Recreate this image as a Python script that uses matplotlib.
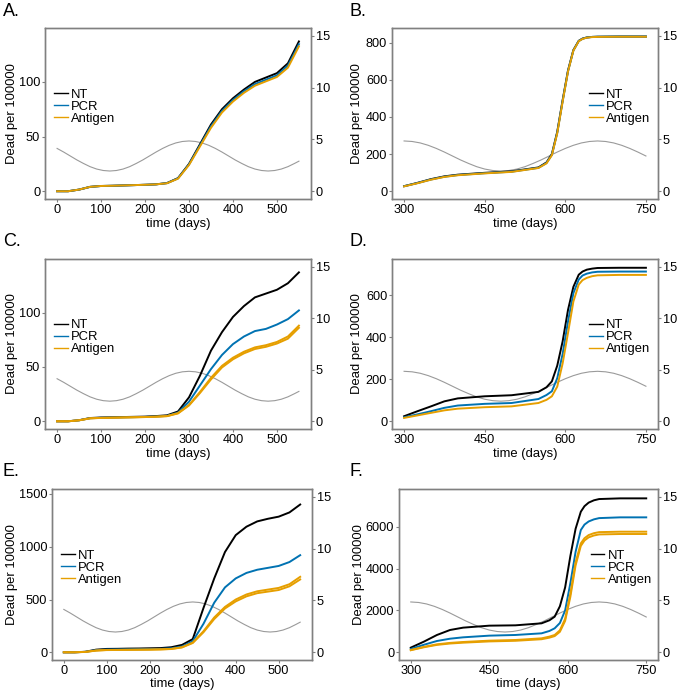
import matplotlib
matplotlib.use("Agg")
import matplotlib.pyplot as plt

plt.rcParams['font.family'] = ['Liberation Sans', 'DejaVu Sans']

# ---------------- data ----------------
t_year1 = [0, 25, 50, 75, 100, 125, 150, 175, 200, 225, 250, 275, 300, 325, 350,
           375, 400, 425, 450, 475, 500, 525, 550]
t_year2 = [300, 325, 350, 375, 400, 450, 500, 550, 565, 575, 585, 595, 605, 615,
           625, 632, 640, 650, 660, 700, 750]

# seasonal forcing (right axis)
season_t1 = [0, 15, 30, 45, 60, 75, 90, 105, 120, 135, 150, 165, 180, 195, 210, 225,
             240, 255, 270, 285, 300, 315, 330, 345, 360, 375, 390, 405, 420, 435,
             450, 465, 480, 495, 510, 525, 540, 550]
season_v1 = [4.13, 3.78, 3.40, 3.02, 2.68, 2.37, 2.14, 2.00, 1.95, 2.00, 2.14, 2.37,
             2.68, 3.02, 3.40, 3.78, 4.13, 4.43, 4.66, 4.80, 4.85, 4.80, 4.66, 4.43,
             4.13, 3.78, 3.40, 3.02, 2.68, 2.37, 2.14, 2.00, 1.95, 2.00, 2.14, 2.37,
             2.68, 2.90]
season_t2 = [300, 315, 330, 345, 360, 375, 390, 405, 420, 435, 450, 465, 480, 495,
             510, 525, 540, 555, 570, 585, 600, 615, 630, 645, 660, 675, 690, 705,
             720, 735, 750]
season_v2 = [4.85, 4.80, 4.66, 4.43, 4.13, 3.78, 3.40, 3.02, 2.68, 2.37, 2.14, 2.00,
             1.95, 2.00, 2.14, 2.37, 2.68, 3.02, 3.40, 3.78, 4.13, 4.43, 4.66, 4.80,
             4.85, 4.80, 4.66, 4.43, 4.13, 3.78, 3.40]

# Panel A
A_nt = [0, 0, 1.5, 4.0, 4.8, 5.0, 5.3, 5.6, 5.9, 6.3, 7.5, 12, 25, 43, 61, 75, 85, 93,
        100, 104, 108, 117, 137]
A_pcr = [0, 0, 1.5, 4.0, 4.8, 5.0, 5.3, 5.6, 5.9, 6.3, 7.4, 11.8, 24.5, 42, 59.5, 73.5,
         83.5, 91.5, 98, 102, 106, 115, 134.5]
A_ag = [0, 0, 1.5, 4.0, 4.8, 5.0, 5.3, 5.6, 5.9, 6.3, 7.3, 11.5, 24, 41, 58, 72, 82, 90,
        96.5, 100.5, 104.5, 113, 132.5]

# Panel B
B_nt = [27, 45, 65, 80, 89, 99, 107, 128, 155, 200, 320, 490, 650, 760, 810, 822, 828,
        831, 832, 833, 833]
B_pcr = [27, 44, 63, 78, 87, 97, 105, 126, 152, 196, 315, 485, 646, 758, 809, 821, 828,
         831, 832, 833, 833]
B_ag = [26, 43, 62, 77, 86, 96, 104, 125, 150, 194, 312, 482, 644, 757, 808, 820, 827,
        830, 831, 832, 832]

# Panel C
C_nt = [0, 0, 1, 3.0, 3.5, 3.7, 3.9, 4.1, 4.3, 4.8, 5.5, 9, 22, 42, 65, 82, 96, 106,
        114, 117.5, 121, 127, 137]
C_pcr = [0, 0, 0.9, 2.8, 3.2, 3.4, 3.6, 3.8, 4.0, 4.4, 5.0, 8, 18, 33, 48, 61, 71, 78,
         83, 85, 89, 94, 102]
C_ag1 = [0, 0, 0.9, 2.7, 3.1, 3.3, 3.5, 3.7, 3.9, 4.2, 4.8, 7.5, 15, 27, 40, 51, 58.5,
         64, 68, 70, 73, 78, 88]
C_ag2 = [0, 0, 0.9, 2.7, 3.1, 3.3, 3.5, 3.7, 3.9, 4.2, 4.7, 7.2, 14.5, 26, 38.5, 49.5,
         57, 62.5, 66.5, 68.5, 71.5, 76, 86]

# Panel D
D_nt = [24, 48, 71, 95, 109, 119, 124, 140, 162, 190, 265, 380, 530, 640, 698, 713, 722,
        727, 730, 731, 731]
D_pcr = [19, 33, 48, 64, 75, 83, 87, 106, 125, 143, 205, 320, 475, 610, 675, 694, 703,
         709, 712, 713, 713]
D_ag = [16, 28, 40, 52, 60, 67, 71, 87, 102, 119, 165, 275, 420, 570, 651, 672, 683,
        691, 695, 697, 697]

# Panel E
E_nt = [0, 0, 5, 25, 32, 33, 35, 36, 38, 40, 48, 70, 125, 420, 700, 950, 1110, 1190,
        1240, 1265, 1285, 1325, 1400]
E_pcr = [0, 0, 4, 20, 26, 27, 28, 29, 30, 32, 38, 55, 105, 270, 470, 615, 700, 752, 782,
         800, 818, 855, 920]
E_ag1 = [0, 0, 3.5, 17, 22, 23, 24, 25, 26, 28, 32, 48, 92, 200, 330, 430, 500, 548, 578,
         594, 610, 645, 715]
E_ag2 = [0, 0, 3.5, 16, 21, 22, 23, 24, 25, 27, 31, 46, 88, 190, 315, 415, 482, 530, 560,
         575, 590, 625, 690]

# Panel F
F_nt = [223, 509, 828, 1066, 1178, 1273, 1289, 1385, 1530, 1703, 2200, 3100, 4600, 5900,
        6716, 6980, 7150, 7260, 7320, 7353, 7353]
F_pcr = [159, 360, 541, 650, 716, 796, 828, 907, 1020, 1146, 1400, 2000, 3300, 4800,
         5841, 6100, 6250, 6350, 6410, 6446, 6446]
F_ag1 = [111, 260, 382, 450, 493, 557, 589, 668, 750, 828, 1050, 1600, 2800, 4300, 5204,
         5450, 5600, 5690, 5740, 5761, 5761]
F_ag2 = [100, 240, 355, 420, 460, 520, 550, 625, 700, 775, 980, 1500, 2650, 4150, 5080,
         5340, 5490, 5580, 5630, 5650, 5650]

legend_labels = ['NT', 'PCR', 'Antigen']
right_ticks = [0, 5, 10, 15]

# ---------------- style ----------------
C_NT = '#000000'
C_PCR = '#0072B2'
C_AG = '#E69F00'
GRAY = '#808080'
FS_TICK = 9.2
FS_LAB = 9.4

panels = [
    dict(label='A.', rect=[45, 28, 266, 171], ylx=12, t=t_year1, nt=A_nt, pcr=A_pcr,
         ag=[A_ag], ylim=(-7.1, 149.3), yticks=[0, 50, 100], xlim=(-27.5, 577.5),
         xticks=[0, 100, 200, 300, 400, 500], st=season_t1, sv=season_v1, leg='left'),
    dict(label='B.', rect=[392, 28, 266, 171], ylx=357, t=t_year2, nt=B_nt, pcr=B_pcr,
         ag=[B_ag], ylim=(-42, 879), yticks=[0, 200, 400, 600, 800],
         xlim=(277.5, 772.5), xticks=[300, 450, 600, 750], st=season_t2, sv=season_v2,
         leg='right'),
    dict(label='C.', rect=[45, 259, 266, 170], ylx=12, t=t_year1, nt=C_nt, pcr=C_pcr,
         ag=[C_ag1, C_ag2], ylim=(-7.1, 149.3), yticks=[0, 50, 100], xlim=(-27.5, 577.5),
         xticks=[0, 100, 200, 300, 400, 500], st=season_t1, sv=season_v1, leg='left'),
    dict(label='D.', rect=[392, 259, 266, 170], ylx=357, t=t_year2, nt=D_nt, pcr=D_pcr,
         ag=[D_ag], ylim=(-36.8, 772.8), yticks=[0, 200, 400, 600], xlim=(277.5, 772.5),
         xticks=[300, 450, 600, 750], st=season_t2, sv=season_v2, leg='right'),
    dict(label='E.', rect=[52, 489, 260, 171], ylx=12, t=t_year1, nt=E_nt, pcr=E_pcr,
         ag=[E_ag1, E_ag2], ylim=(-73, 1547), yticks=[0, 500, 1000, 1500],
         xlim=(-27.5, 577.5), xticks=[0, 100, 200, 300, 400, 500], st=season_t1,
         sv=season_v1, leg='left'),
    dict(label='F.', rect=[399, 489, 259, 171], ylx=359, t=t_year2, nt=F_nt, pcr=F_pcr,
         ag=[F_ag1, F_ag2], ylim=(-367, 7800), yticks=[0, 2000, 4000, 6000],
         xlim=(277.5, 772.5), xticks=[300, 450, 600, 750], st=season_t2, sv=season_v2,
         leg='right'),
]

W, H = 678, 692
fig = plt.figure(figsize=(W / 100, H / 100), dpi=100)

label_pos = {'A.': (3, 12), 'B.': (350, 12), 'C.': (3, 242), 'D.': (350, 242),
             'E.': (3, 472), 'F.': (350, 472)}

for p in panels:
    x0, y0, w, h = p['rect']
    ax = fig.add_axes([x0 / W, 1 - (y0 + h) / H, w / W, h / H])
    ax2 = ax.twinx()
    ax.set_zorder(ax2.get_zorder() + 1)
    ax.patch.set_visible(False)

    ax2.plot(p['st'], p['sv'], color='#9a9a9a', lw=0.8)
    ax2.set_ylim(-0.75, 15.75)
    ax2.set_yticks(right_ticks)

    ax.plot(p['t'], p['nt'], color=C_NT, lw=1.4, label=legend_labels[0])
    ax.plot(p['t'], p['pcr'], color=C_PCR, lw=1.4, label=legend_labels[1])
    for i, ag in enumerate(p['ag']):
        ax.plot(p['t'], ag, color=C_AG, lw=1.4,
                label=legend_labels[2] if i == 0 else None)

    ax.set_xlim(*p['xlim'])
    ax.set_ylim(*p['ylim'])
    ax.set_xticks(p['xticks'])
    ax.set_yticks(p['yticks'])
    ax.set_xlabel('time (days)', fontsize=FS_LAB, va='center')
    ax.set_ylabel('Dead per 100000', fontsize=FS_LAB, va='center')
    ax.xaxis.set_label_coords(0.5, -24.5 / h)
    ax.yaxis.set_label_coords((p['ylx'] - x0) / w, 0.5)

    for a in (ax, ax2):
        for s in a.spines.values():
            s.set_color(GRAY)
            s.set_linewidth(1.0)
        a.tick_params(axis='both', colors=GRAY, labelcolor='black', labelsize=FS_TICK,
                      length=2.5, width=0.8, pad=1)

    if p['leg'] == 'left':
        anchor = (0.034, 0.54)
    else:
        anchor = (0.74, 0.54)
    leg = ax.legend(loc='center left', bbox_to_anchor=anchor, frameon=False,
                    fontsize=FS_LAB, handlelength=1.05, handletextpad=0.25,
                    labelspacing=0.0, borderpad=0, borderaxespad=0)
    for ln in leg.get_lines():
        ln.set_linewidth(1.0)

    lx, ly = label_pos[p['label']]
    fig.text(lx / W, 1 - ly / H, p['label'], fontsize=13, ha='left', va='center')

fig.savefig('out.png', dpi=100)
